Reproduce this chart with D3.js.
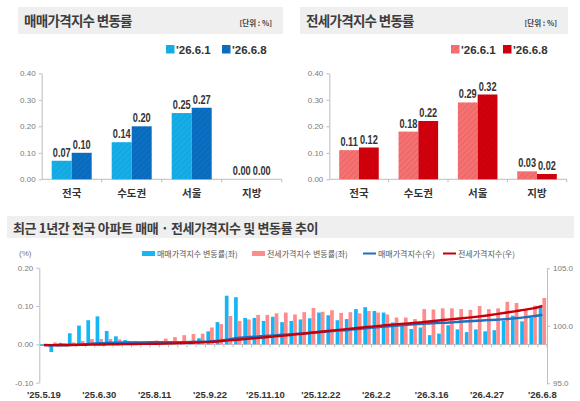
<!DOCTYPE html>
<html>
<head>
<meta charset="utf-8">
<title>아파트 가격지수 변동률</title>
<script src="https://cdn.jsdelivr.net/npm/d3@7"></script>
<style>
  body { margin: 0; background: #fff; }
  svg { display: block; }
  .kr { font-family: "Noto Sans CJK KR", "Noto Sans", sans-serif; }
  .num { font-family: "Liberation Sans", Arial, sans-serif; }
</style>
</head>
<body>
<script>
// ---- top panels: weekly change by region (%)
var regions = ["전국", "수도권", "서울", "지방"];
var periods = ["'26.6.1", "'26.6.8"];
var saleRate1 = [0.07, 0.14, 0.25, 0.00];
var saleRate2 = [0.10, 0.20, 0.27, 0.00];
var jeonseRate1 = [0.11, 0.18, 0.29, 0.03];
var jeonseRate2 = [0.12, 0.22, 0.32, 0.02];
var topTicks = [0, 0.1, 0.2, 0.3, 0.4];

// ---- bottom chart: last 1 year, weekly
var weeks = ["'25.5.19","'25.5.26","'25.6.2","'25.6.9","'25.6.16","'25.6.23","'25.6.30","'25.7.7","'25.7.14","'25.7.21",
  "'25.7.28","'25.8.4","'25.8.11","'25.8.18","'25.8.25","'25.9.1","'25.9.8","'25.9.15","'25.9.22","'25.9.29",
  "'25.10.13","'25.10.20","'25.10.27","'25.11.3","'25.11.10","'25.11.17","'25.11.24","'25.12.1","'25.12.8","'25.12.15",
  "'25.12.22","'25.12.29","'26.1.5","'26.1.12","'26.1.19","'26.1.26","'26.2.2","'26.2.9","'26.2.16","'26.2.23",
  "'26.3.2","'26.3.9","'26.3.16","'26.3.23","'26.3.30","'26.4.6","'26.4.13","'26.4.20","'26.4.27","'26.5.4",
  "'26.5.11","'26.5.18","'26.5.25","'26.6.1","'26.6.8"];
var saleChange = [-0.004,-0.020,0.004,0.029,0.049,0.063,0.073,0.035,0.021,0.011,
  0.008,0.008,0.007,0.005,0.006,0.005,0.007,0.016,0.034,0.058,
  0.127,0.123,0.069,0.069,0.061,0.072,0.058,0.061,0.065,0.068,
  0.083,0.076,0.063,0.066,0.092,0.097,0.087,0.083,0.057,0.053,
  0.040,0.044,0.024,0.028,0.050,0.039,0.032,0.039,0.034,0.037,
  0.062,0.075,0.060,0.069,0.098];
var jeonseChange = [0.002,0.005,0.003,0.005,0.009,0.014,0.014,0.014,0.013,0.009,
  0.008,0.008,0.010,0.015,0.019,0.024,0.027,0.028,0.044,0.053,
  0.074,0.061,0.065,0.077,0.077,0.081,0.083,0.078,0.084,0.095,
  0.085,0.089,0.082,0.084,0.081,0.087,0.083,0.078,0.070,0.070,
  0.066,0.092,0.091,0.094,0.094,0.092,0.090,0.100,0.092,0.094,
  0.111,0.108,0.092,0.101,0.121];
var saleIndex = [98.32,98.31,98.31,98.34,98.38,98.43,98.49,98.52,98.54,98.55,
  98.56,98.56,98.57,98.57,98.58,98.58,98.59,98.61,98.64,98.70,
  98.82,98.94,99.00,99.06,99.11,99.17,99.22,99.28,99.33,99.39,
  99.46,99.53,99.58,99.64,99.72,99.80,99.87,99.94,100.00,100.06,
  100.12,100.17,100.22,100.25,100.29,100.35,100.40,100.44,100.49,100.53,
  100.58,100.65,100.73,100.83,100.96];
var jeonseIndex = [98.32,98.32,98.33,98.33,98.34,98.36,98.37,98.39,98.40,98.41,
  98.42,98.43,98.44,98.45,98.47,98.50,98.53,98.56,98.60,98.66,
  98.73,98.79,98.86,98.93,99.00,99.08,99.15,99.23,99.31,99.40,
  99.48,99.57,99.65,99.73,99.81,99.89,99.97,100.05,100.12,100.19,
  100.24,100.32,100.40,100.48,100.56,100.63,100.71,100.80,100.90,101.01,
  101.13,101.26,101.38,101.52,101.72];
var leftTicks = [-0.1, 0, 0.1, 0.2];
var rightTicks = [95, 100, 105];
var bottomLegend = ["매매가격지수 변동률(좌)", "전세가격지수 변동률(좌)", "매매가격지수(우)", "전세가격지수(우)"];

var svg = d3.select("body").append("svg").attr("width", 580).attr("height", 401);
var defs = svg.append("defs");

function hatch(id, base, stripe) {
  var p = defs.append("pattern").attr("id", id).attr("patternUnits", "userSpaceOnUse")
    .attr("width", 4).attr("height", 4).attr("patternTransform", "rotate(45)");
  p.append("rect").attr("width", 4).attr("height", 4).attr("fill", base);
  p.append("line").attr("x1", 0).attr("y1", 0).attr("x2", 0).attr("y2", 4)
    .attr("stroke", stripe).attr("stroke-width", 1.6);
}
hatch("hBlue1", "#17aee8", "#129fd8");
hatch("hBlue2", "#0b6fc3", "#0963b0");
hatch("hRed1", "#f47272", "#ea5f5f");
hatch("hRed2", "#d2000c", "#c2000a");

function styleAxis(g) {
  g.selectAll(".domain").attr("stroke", "#bdbdbd");
  g.selectAll(".tick line").attr("stroke", "#bdbdbd");
  g.selectAll(".tick text").attr("fill", "#7a7a7a").attr("font-size", "8px")
    .attr("font-family", "Liberation Sans, Arial, sans-serif");
}

// ---------- top panels ----------
var yTop = d3.scaleLinear().domain([0, 0.4]).range([179.3, 73.3]);

function ratePanel(cfg) {
  var g = svg.append("g");
  g.append("rect").attr("x", cfg.boxX).attr("y", 7).attr("width", cfg.boxW).attr("height", 27).attr("fill", "#efefef");
  g.append("text").attr("class", "kr").attr("x", cfg.boxX + 6).attr("y", 26)
    .attr("font-size", "13.5px").attr("font-weight", 700).attr("letter-spacing", "-0.7px")
    .attr("fill", "#3d3d3d").text(cfg.title);
  g.append("text").attr("class", "kr").attr("x", cfg.boxX + cfg.boxW - 11).attr("y", 26)
    .attr("text-anchor", "end").attr("font-size", "7.5px").attr("font-weight", 700).attr("fill", "#444").text("[단위 : %]");

  // legend
  periods.forEach(function (p, i) {
    var lx = cfg.legendX + i * cfg.legendStep;
    g.append("rect").attr("x", lx).attr("y", 45).attr("width", 8.5).attr("height", 8.5).attr("fill", cfg.fills[i]);
    g.append("text").attr("class", "num").attr("x", lx + 10).attr("y", 54)
      .attr("font-size", "11.5px").attr("font-weight", 700).attr("fill", "#333").text(p);
  });

  var x = d3.scaleBand().domain(regions).range([cfg.x0, cfg.x1]);
  var bw = x.bandwidth(), barW = bw / 3;

  g.append("g").attr("transform", "translate(" + cfg.x0 + ",0)")
    .call(d3.axisLeft(yTop).tickValues(topTicks).tickFormat(function (d) { return d.toFixed(2); }).tickSize(3).tickSizeOuter(0))
    .call(styleAxis);

  g.append("line").attr("x1", cfg.x0).attr("x2", cfg.x1).attr("y1", yTop(0)).attr("y2", yTop(0)).attr("stroke", "#bdbdbd");
  g.selectAll(".bt").data(regions).enter().append("line")
    .attr("x1", function (d) { return x(d) + bw; }).attr("x2", function (d) { return x(d) + bw; })
    .attr("y1", yTop(0)).attr("y2", yTop(0) + 3).attr("stroke", "#bdbdbd");
  g.selectAll(".cat").data(regions).enter().append("text").attr("class", "kr")
    .attr("x", function (d) { return x(d) + bw / 2; }).attr("y", 197).attr("text-anchor", "middle")
    .attr("font-size", "10.5px").attr("font-weight", 700).attr("fill", "#333").text(function (d) { return d; });

  [cfg.first, cfg.second].forEach(function (vals, k) {
    var bx = function (d, i) { return x(regions[i]) + bw / 2 - barW + k * barW; };
    g.selectAll(".b" + k).data(vals).enter().append("rect")
      .attr("x", bx).attr("width", barW)
      .attr("y", function (d) { return yTop(d); })
      .attr("height", function (d) { return yTop(0) - yTop(d); })
      .attr("fill", cfg.fills[k]);
    // condensed bold value labels
    g.selectAll(".l" + k).data(vals).enter().append("text").attr("class", "num")
      .attr("transform", function (d, i) {
        return "translate(" + (bx(d, i) + barW / 2) + "," + (yTop(d) - 4) + ") scale(0.8,1.08)";
      })
      .attr("text-anchor", "middle").attr("font-size", "11.5px").attr("font-weight", 700).attr("fill", "#333")
      .text(function (d) { return d.toFixed(2); });
  });
}

ratePanel({ boxX: 18, boxW: 265, title: "매매가격지수 변동률", legendX: 166, legendStep: 56,
  x0: 41.7, x1: 281.7, first: saleRate1, second: saleRate2, fills: ["url(#hBlue1)", "url(#hBlue2)"] });
ratePanel({ boxX: 300, boxW: 268, title: "전세가격지수 변동률", legendX: 451, legendStep: 52,
  x0: 329.3, x1: 566.7, first: jeonseRate1, second: jeonseRate2, fills: ["url(#hRed1)", "url(#hRed2)"] });

// ---------- bottom chart ----------
var gb = svg.append("g");
gb.append("rect").attr("x", 7).attr("y", 216).attr("width", 567).attr("height", 22).attr("fill", "#efefef");
gb.append("text").attr("class", "kr").attr("x", 13).attr("y", 233)
  .attr("font-size", "13px").attr("font-weight", 700).attr("letter-spacing", "-0.35px").attr("fill", "#3d3d3d")
  .text("최근 1년간 전국 아파트 매매 · 전세가격지수 및 변동률 추이");

var xB = d3.scaleBand().domain(weeks).range([39.3, 547]);
var xIn = d3.scaleBand().domain(["sale", "jeonse"]).range([-3.7, 3.7]);
var yL = d3.scaleLinear().domain([-0.1, 0.2]).range([382.7, 267.7]);
var yR = d3.scaleLinear().domain([95, 105]).range([383.3, 268.3]);
var cx = function (d) { return xB(d) + xB.bandwidth() / 2; };

gb.append("g").attr("transform", "translate(39.3,0)")
  .call(d3.axisLeft(yL).tickValues(leftTicks).tickFormat(function (d) { return d.toFixed(2); }).tickSize(3).tickSizeOuter(0))
  .call(styleAxis);
gb.append("g").attr("transform", "translate(547,0)")
  .call(d3.axisRight(yR).tickValues(rightTicks).tickFormat(function (d) { return d.toFixed(1); }).tickSize(3).tickSizeOuter(0))
  .call(styleAxis);
gb.append("text").attr("class", "num").attr("x", 19).attr("y", 256).attr("font-size", "8px").attr("fill", "#7a7a7a").text("(%)");

gb.append("line").attr("x1", 39.3).attr("x2", 547).attr("y1", yL(0)).attr("y2", yL(0)).attr("stroke", "#bdbdbd");
gb.selectAll(".wt").data(weeks).enter().append("line")
  .attr("x1", function (d) { return xB(d) + xB.bandwidth(); }).attr("x2", function (d) { return xB(d) + xB.bandwidth(); })
  .attr("y1", yL(0)).attr("y2", yL(0) + 3).attr("stroke", "#bdbdbd");

var barData = weeks.map(function (w, i) { return { w: w, sale: saleChange[i], jeonse: jeonseChange[i] }; });
[["sale", "#15b6f4"], ["jeonse", "#ff8c8c"]].forEach(function (s) {
  gb.selectAll(".wb-" + s[0]).data(barData).enter().append("rect")
    .attr("x", function (d) { return cx(d.w) + xIn(s[0]); })
    .attr("width", xIn.bandwidth())
    .attr("y", function (d) { return Math.min(yL(d[s[0]]), yL(0)); })
    .attr("height", function (d) { return Math.abs(yL(d[s[0]]) - yL(0)); })
    .attr("fill", s[1]);
});

var line = d3.line().x(function (d) { return cx(d.w); }).y(function (d) { return yR(d.v); }).curve(d3.curveMonotoneX);
gb.append("path").datum(weeks.map(function (w, i) { return { w: w, v: saleIndex[i] }; }))
  .attr("d", line).attr("fill", "none").attr("stroke", "#1f6fc0").attr("stroke-width", 2.4);
gb.append("path").datum(weeks.map(function (w, i) { return { w: w, v: jeonseIndex[i] }; }))
  .attr("d", line).attr("fill", "none").attr("stroke", "#c5000b").attr("stroke-width", 2.4);

gb.selectAll(".wl").data(weeks.filter(function (d, i) { return i % 6 === 0; })).enter().append("text")
  .attr("class", "num").attr("x", cx).attr("y", 398).attr("text-anchor", "middle")
  .attr("font-size", "9.5px").attr("font-weight", 700).attr("fill", "#333").text(function (d) { return d; });

// legend
var legX = [142, 252, 363, 443];
bottomLegend.forEach(function (t, i) {
  if (i < 2) {
    gb.append("rect").attr("x", legX[i]).attr("y", 251).attr("width", 13).attr("height", 5)
      .attr("fill", i === 0 ? "#15b6f4" : "#ff8c8c");
  } else {
    gb.append("line").attr("x1", legX[i]).attr("x2", legX[i] + 13).attr("y1", 253.5).attr("y2", 253.5)
      .attr("stroke", i === 2 ? "#1f6fc0" : "#c5000b").attr("stroke-width", 2);
  }
  gb.append("text").attr("class", "kr").attr("x", legX[i] + 15).attr("y", 256.5)
    .attr("font-size", "8px").attr("fill", "#555").text(t);
});
</script>
</body>
</html>
